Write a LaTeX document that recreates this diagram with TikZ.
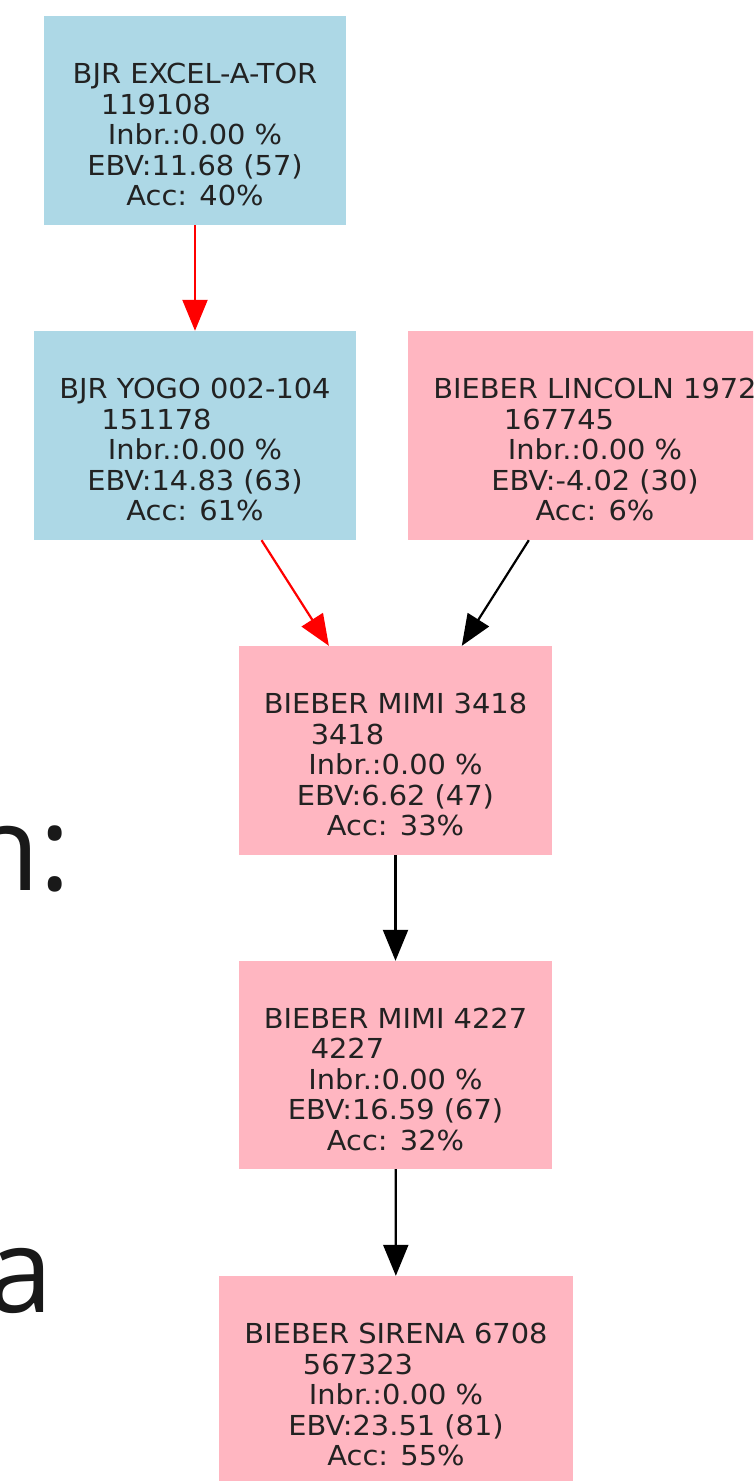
\documentclass[tikz,border=0pt]{standalone}
\usepackage{fontspec}
\setmainfont{DejaVu Sans}
\newfontfamily\bigfont{Open Sans}
\newfontfamily\boxfont[FakeStretch=1.05]{DejaVu Sans}
\usetikzlibrary{arrows.meta}
\definecolor{bblue}{RGB}{173,216,230}
\definecolor{bpink}{RGB}{255,182,193}
\definecolor{txtc}{RGB}{34,34,34}
\begin{document}
\begin{tikzpicture}[x=1pt,y=-1pt,
  box/.style={rectangle, inner sep=0pt, draw=none},
  lbl/.style={inner sep=0pt, align=center, text=txtc, font=\boxfont\fontsize{27.5}{30.5}\selectfont},
  edge/.style={line width=2.2pt, -{Triangle[length=31pt,width=25pt]}},
  big/.style={inner sep=0pt, font=\bigfont\fontsize{118}{120}\selectfont, text=black!90}]
\useasboundingbox (0,0) rectangle (753,1481);
\clip (0,0) rectangle (753,1481);
\fill[white] (0,0) rectangle (753,1481);

\node[big, anchor=base west] (n) at (-33,890) {n:};
\node[big, anchor=base west] (aa) at (-13,1312) {a};

\node[box, fill=bblue, minimum width=302pt, minimum height=209pt] (a) at (195,120.5) {};
\node[lbl] (at) at ([yshift=-14pt]a.center) {BJR EXCEL-A-TOR\\119108\rule{78pt}{0pt}\\Inbr.:0.00 \%\\EBV:11.68 (57)\\Acc: 40\%};

\node[box, fill=bblue, minimum width=322pt, minimum height=209pt] (b) at (195,435.5) {};
\node[lbl] (bt) at ([yshift=-14pt]b.center) {BJR YOGO 002-104\\151178\rule{77pt}{0pt}\\Inbr.:0.00 \%\\EBV:14.83 (63)\\Acc: 61\%};

\node[box, fill=bpink, minimum width=374pt, minimum height=209pt] (c) at (595,435.5) {};
\node[lbl] (ct) at ([yshift=-14pt]c.center) {BIEBER LINCOLN 1972\\167745\rule{72pt}{0pt}\\Inbr.:0.00 \%\\EBV:-4.02 (30)\\Acc: 6\%};

\node[box, fill=bpink, minimum width=313pt, minimum height=209pt] (d) at (395.5,750.5) {};
\node[lbl] (dt) at ([yshift=-14pt]d.center) {BIEBER MIMI 3418\\3418\rule{96pt}{0pt}\\Inbr.:0.00 \%\\EBV:6.62 (47)\\Acc: 33\%};

\node[box, fill=bpink, minimum width=313pt, minimum height=208pt] (e) at (395.5,1065) {};
\node[lbl] (et) at ([yshift=-14pt]e.center) {BIEBER MIMI 4227\\4227\rule{96pt}{0pt}\\Inbr.:0.00 \%\\EBV:16.59 (67)\\Acc: 32\%};

\node[box, fill=bpink, minimum width=354pt, minimum height=209pt] (f) at (396,1380.5) {};
\node[lbl] (ft) at ([yshift=-14pt]f.center) {BIEBER SIRENA 6708\\567323\rule{76pt}{0pt}\\Inbr.:0.00 \%\\EBV:23.51 (81)\\Acc: 55\%};

\draw[edge, red] (a) -- (b);
\draw[edge, red] (b) -- (d);
\draw[edge, black] (c) -- (d);
\draw[edge, black] (d) -- (e);
\draw[edge, black] (e) -- (f);
\end{tikzpicture}
\end{document}
